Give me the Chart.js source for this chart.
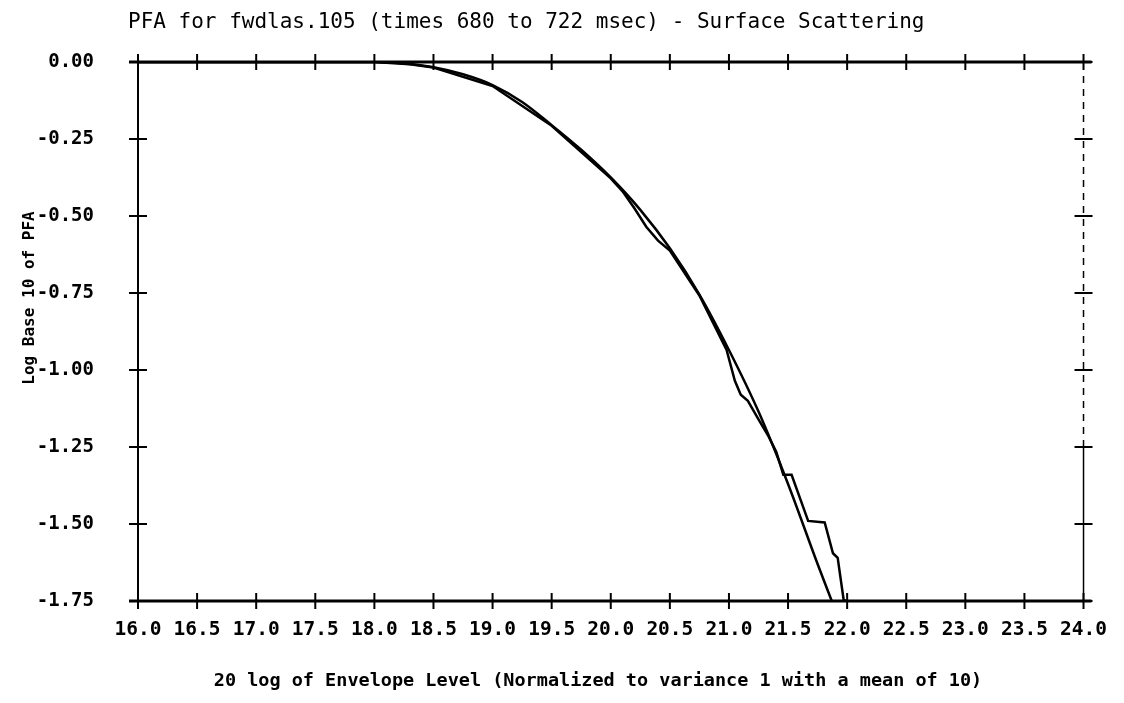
<!DOCTYPE html>
<html>
<head>
<meta charset="utf-8">
<script src="https://cdn.jsdelivr.net/npm/chart.js@4.4.1/dist/chart.umd.min.js"></script>
<style>
  html, body { margin: 0; padding: 0; background: #fff; }
  canvas { display: block; }
</style>
</head>
<body>
<canvas id="pfaChart" width="1124" height="703"></canvas>
<script>
// theoretical PFA curve (smooth)
const theoryLevel = [16.0, 17.0, 18.0, 18.25, 18.5, 18.75, 19.0, 19.25, 19.5, 19.75,
  20.0, 20.25, 20.5, 20.75, 21.0, 21.25, 21.5, 21.75, 21.87];
const theoryLogPfa = [0, 0, 0, -0.005, -0.017, -0.040, -0.075, -0.130, -0.205, -0.285,
  -0.375, -0.480, -0.605, -0.755, -0.935, -1.135, -1.370, -1.630, -1.75];

// measured PFA from fwdlas.105 (stepped)
const measuredLevel = [16.0, 18.0, 18.3, 18.5, 19.0, 19.5, 20.0, 20.1, 20.2, 20.3, 20.4, 20.5,
  20.75, 20.98, 21.05, 21.1, 21.16, 21.25, 21.33, 21.4, 21.46, 21.53, 21.67, 21.81, 21.88, 21.92, 21.97, 21.99];
const measuredLogPfa = [0, 0, -0.007, -0.018, -0.078, -0.207, -0.378, -0.420, -0.475, -0.535, -0.580, -0.612,
  -0.758, -0.935, -1.035, -1.080, -1.100, -1.160, -1.212, -1.265, -1.340, -1.340, -1.490, -1.495, -1.595, -1.610, -1.745, -1.75];

const titleText = 'PFA for fwdlas.105 (times 680 to 722 msec) - Surface Scattering';
const xTitle = '20 log of Envelope Level (Normalized to variance 1 with a mean of 10)';
const yTitle = 'Log Base 10 of PFA';

const mono = 'DejaVu Sans Mono';

const toPoints = (xs, ys) => xs.map((x, i) => ({ x: x, y: ys[i] }));

// plotter style frame: heavy top/bottom, cross ticks on all four sides
const framePlugin = {
  id: 'frame',
  afterDatasetsDraw(chart) {
    const { ctx, chartArea: a, scales: { x, y } } = chart;
    const seg = (x1, y1, x2, y2) => {
      ctx.beginPath();
      ctx.moveTo(x1, y1);
      ctx.lineTo(x2, y2);
      ctx.stroke();
    };
    ctx.save();
    ctx.strokeStyle = '#000';
    ctx.lineCap = 'butt';

    ctx.lineWidth = 3;
    seg(a.left - 9, a.top, a.right + 8, a.top);
    seg(a.left - 9, a.bottom, a.right + 8, a.bottom);
    ctx.lineWidth = 2;
    seg(a.left, a.top, a.left, a.bottom);

    // right edge: broken above, solid near the bottom
    const brk = y.getPixelForValue(-1.25);
    ctx.lineWidth = 1.5;
    ctx.setLineDash([7, 6]);
    seg(a.right, a.top + 14, a.right, brk);
    ctx.setLineDash([]);
    seg(a.right, brk, a.right, a.bottom);

    ctx.lineWidth = 2;
    x.ticks.forEach(t => {
      const px = x.getPixelForValue(t.value);
      seg(px, a.top - 8, px, a.top + 8);
      seg(px, a.bottom - 8, px, a.bottom + 8);
    });
    y.ticks.forEach(t => {
      const py = y.getPixelForValue(t.value);
      seg(a.left - 9, py, a.left + 9, py);
      seg(a.right - 9, py, a.right + 9, py);
    });
    ctx.restore();
  }
};

// titles are placed where the plotter put them, a bit off centre
const titlePlugin = {
  id: 'plotTitles',
  afterDraw(chart) {
    const ctx = chart.ctx;
    ctx.save();
    ctx.fillStyle = '#000';
    ctx.textBaseline = 'middle';

    ctx.font = '21px "' + mono + '"';
    ctx.textAlign = 'left';
    ctx.fillText(titleText, 128, 23);

    ctx.font = 'bold 18.5px "' + mono + '"';
    ctx.textAlign = 'center';
    ctx.fillText(xTitle, 598, 681);

    ctx.translate(30, 298);
    ctx.rotate(-Math.PI / 2);
    ctx.font = 'bold 16px "' + mono + '"';
    ctx.fillText(yTitle, 0, 0);
    ctx.restore();
  }
};

const ctx = document.getElementById('pfaChart').getContext('2d');
new Chart(ctx, {
  type: 'line',
  data: {
    datasets: [
      {
        label: 'Theory',
        data: toPoints(theoryLevel, theoryLogPfa),
        borderColor: '#000',
        borderWidth: 2.5,
        pointRadius: 0,
        cubicInterpolationMode: 'monotone',
      },
      {
        label: 'Measured',
        data: toPoints(measuredLevel, measuredLogPfa),
        borderColor: '#000',
        borderWidth: 2.5,
        pointRadius: 0,
        tension: 0,
      },
    ],
  },
  options: {
    responsive: false,
    animation: false,
    devicePixelRatio: 1,
    layout: { padding: { top: 62, right: 38, left: 0, bottom: 0 } },
    plugins: {
      legend: { display: false },
      tooltip: { enabled: false },
    },
    scales: {
      x: {
        type: 'linear',
        min: 16,
        max: 24,
        grid: { display: false, drawTicks: false },
        border: { display: false },
        ticks: {
          stepSize: 0.5,
          autoSkip: false,
          maxRotation: 0,
          padding: 17,
          color: '#000',
          font: { family: mono, size: 19.5, weight: 'bold' },
          callback: v => v.toFixed(1),
        },
        afterFit: s => { s.height = 102; },
      },
      y: {
        min: -1.75,
        max: 0,
        grid: { display: false, drawTicks: false },
        border: { display: false },
        ticks: {
          stepSize: 0.25,
          padding: 44,
          color: '#000',
          font: { family: mono, size: 19, weight: 'bold' },
          callback: v => v.toFixed(2),
        },
        afterFit: s => { s.width = 138; },
      },
    },
  },
  plugins: [framePlugin, titlePlugin],
});
</script>
</body>
</html>
